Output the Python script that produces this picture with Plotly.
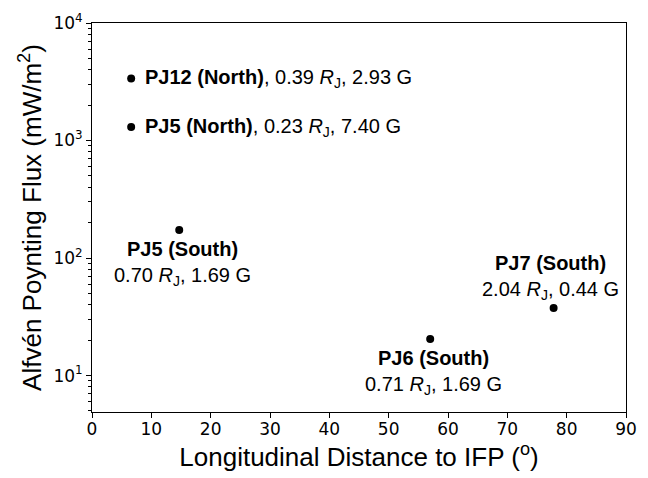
import math
import plotly.graph_objects as go

names = ["PJ12 (North)", "PJ5 (North)", "PJ5 (South)", "PJ6 (South)", "PJ7 (South)"]
dist = [6.6, 6.6, 14.7, 57.0, 77.8]
flux = [3375, 1303, 173, 20.5, 37.5]
radius = ["0.39", "0.23", "0.70", "0.71", "2.04"]
field = ["2.93", "7.40", "1.69", "1.69", "0.44"]

xticks = list(range(0, 91, 10))
yticks = [10, 100, 1000, 10000]
yticktext = ["10<sup>1</sup>", "10<sup>2</sup>", "10<sup>3</sup>", "10<sup>4</sup>"]
yminor = [m * 10 ** e for e in range(0, 4) for m in range(2, 10) if m * 10 ** e >= 5]
yrange = [0.69, 4]

fig = go.Figure()
fig.add_trace(go.Scatter(x=dist, y=flux, mode="markers",
                         marker=dict(color="black", size=8), showlegend=False))
# invisible trace so the minor-tick overlay axis is drawn
fig.add_trace(go.Scatter(x=dist, y=flux, mode="markers", yaxis="y2",
                         marker=dict(opacity=0), showlegend=False, hoverinfo="skip"))

lab_font = dict(family="Liberation Sans, Arial, sans-serif", size=20, color="black")
for i, n in enumerate(names):
    rj = f"{radius[i]} <i>R</i><sub>J</sub>, {field[i]} G"
    ly = math.log10(flux[i])
    if "North" in n:
        fig.add_annotation(x=dist[i], y=ly, text=f"<b>{n}</b>, {rj}",
                           showarrow=False, xanchor="left", yanchor="middle",
                           xshift=12, font=lab_font)
    elif n.startswith("PJ7"):
        fig.add_annotation(x=dist[i], y=ly, text=f"<b>{n}</b><br>{rj}",
                           showarrow=False, xanchor="center", yanchor="bottom",
                           yshift=3, xshift=-3, font=lab_font)
    else:
        fig.add_annotation(x=dist[i], y=ly, text=f"<b>{n}</b><br>{rj}",
                           showarrow=False, xanchor="center", yanchor="top",
                           yshift=-6, xshift=3, font=lab_font)

tick_font = dict(family="DejaVu Sans, sans-serif", size=17, color="black")
title_font = dict(family="Liberation Sans, Arial, sans-serif", size=26, color="black")

fig.update_layout(
    width=648, height=478, plot_bgcolor="white", paper_bgcolor="white",
    margin=dict(l=92, r=11, t=19, b=66),
    xaxis=dict(range=[0, 90], tickvals=xticks, ticks="outside", ticklen=5,
               tickcolor="black", showline=True, linecolor="black", linewidth=1,
               mirror=True, showgrid=False, zeroline=False, tickfont=tick_font,
               ticklabelstandoff=-3,
               title=dict(text="Longitudinal Distance to IFP (<sup>o</sup>)",
                          font=title_font, standoff=4)),
    yaxis=dict(type="log", range=yrange, tickvals=yticks, ticktext=yticktext,
               ticks="outside", ticklen=5, tickcolor="black", showline=True,
               linecolor="black", linewidth=1, mirror=True, showgrid=False,
               zeroline=False, tickfont=tick_font,
               title=dict(text="Alfvén Poynting Flux (mW/m<sup>2</sup>)",
                          font=title_font, standoff=4)),
    yaxis2=dict(type="log", range=yrange, overlaying="y", side="left",
                tickvals=yminor, ticks="outside", ticklen=3, tickcolor="black",
                showticklabels=False, showgrid=False, showline=False,
                zeroline=False),
)
fig.write_html("out.html")
